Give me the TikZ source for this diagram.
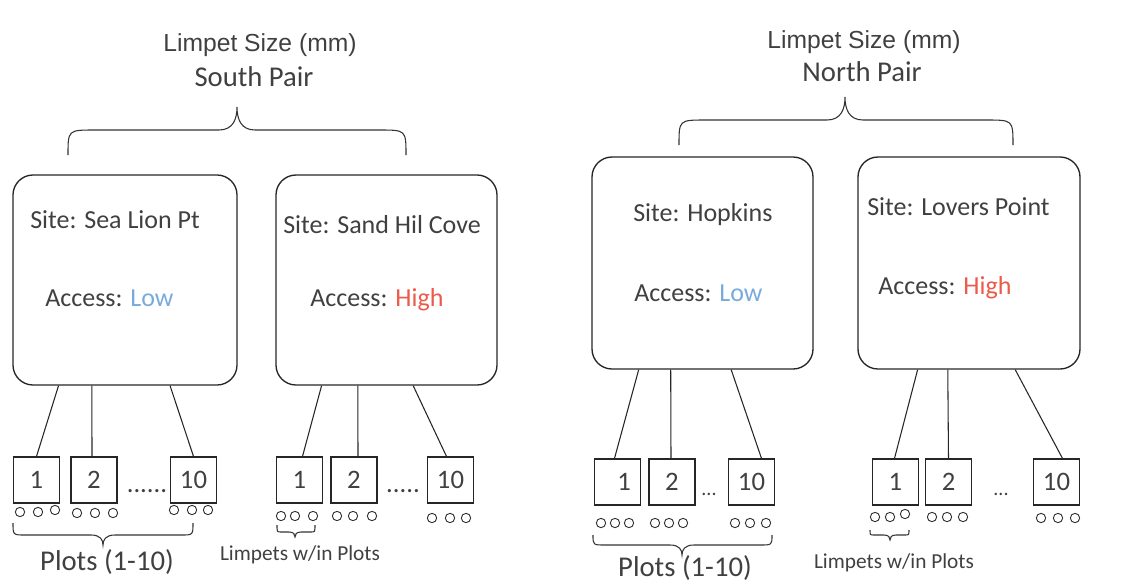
\documentclass[tikz,border=0pt]{standalone}
\usepackage{fontspec}
\setmainfont{Carlito}
\newfontfamily\arialf{Liberation Sans}
\usetikzlibrary{calc,fit}
\definecolor{lowc}{RGB}{120,170,220}
\definecolor{highc}{RGB}{235,90,75}
\definecolor{txt}{RGB}{64,64,64}

\newcommand{\pbrace}[8]{%
 \draw[brc] (#1,#4) .. controls (#1,#5) .. ({#1+#7},#5) -- ({#2-#8},#5)
   .. controls ({#2-0.2*#8},#5) and (#2,{(#5+#6)/2}) .. (#2,#6)
   .. controls (#2,{(#5+#6)/2}) and ({#2+0.2*#8},#5) .. ({#2+#8},#5)
   -- ({#3-#7},#5) .. controls (#3,#5) .. (#3,#4);}

\begin{document}
\begin{tikzpicture}[x=0.75pt,y=-0.75pt,
  site/.style={draw=black!85, line width=1pt, rounded corners=15pt, inner sep=0pt},
  plot/.style={draw=black!85, line width=0.9pt, minimum width=34.5pt, minimum height=34.5pt, inner sep=0pt, font=\fontsize{20}{24}\selectfont, text=txt},
  ring/.style={circle, draw=black!80, line width=0.7pt, minimum size=7pt, inner sep=0pt},
  conn/.style={draw=black!85, line width=0.8pt},
  brc/.style={draw=black!80, line width=0.8pt},
  lbl/.style={inner sep=0pt, text=txt, font=\fontsize{19.5}{23}\selectfont, anchor=west},
  ttl/.style={inner sep=0pt, text=txt, font=\arialf\fontsize{18.5}{22}\selectfont},
  pair/.style={inner sep=0pt, text=txt, font=\fontsize{21.5}{26}\selectfont},
  plotlbl/.style={inner sep=0pt, text=txt, font=\fontsize{21.5}{26}\selectfont},
  limlbl/.style={inner sep=0pt, text=txt, font=\fontsize{16}{19}\selectfont},
  dots/.style={inner sep=0pt, text=txt, anchor=base, font=\fontsize{20}{24}\selectfont}]
\useasboundingbox (0,0) rectangle (1122,586);

% titles
\node[ttl] (tS) at (260,45) {Limpet Size (mm)};
\node[pair] (pS) at (254,77) {South Pair};
\node[ttl] (tN) at (864,42) {Limpet Size (mm)};
\node[pair] (pN) at (862,72) {North Pair};

% top braces
\pbrace{68}{237}{406}{155}{130}{107}{27}{18}
\pbrace{679}{845}{1013}{145}{120}{97}{27}{18}

% site boxes
\node[site, fit={(13,175) (237,385)}] (S1) {};
\node[site, fit={(276,175) (497,385)}] (S2) {};
\node[site, fit={(592,157) (813,369)}] (N1) {};
\node[site, fit={(858,157) (1080,369)}] (N2) {};

\node[lbl] (s1a) at (30,220) {Site: Sea Lion Pt};
\node[lbl] (s1b) at (45,298) {Access: \textcolor{lowc}{Low}};
\node[lbl] (s2a) at (283,225) {Site: Sand Hil Cove};
\node[lbl] (s2b) at (310,300) {Access: \textcolor{highc}{High}};
\node[lbl] (n1a) at (633,215) {Site: Hopkins};
\node[lbl] (n1b) at (634,293) {Access: \textcolor{lowc}{Low}};
\node[lbl] (n2a) at (867,207) {Site: Lovers Point};
\node[lbl] (n2b) at (878,288) {Access: \textcolor{highc}{High}};

% plots
\node[plot] (SP1) at (36.5,480) {1};
\node[plot] (SP2) at (94,480) {2};
\node[plot] (SP10) at (193.5,480) {10};
\node[dots] (Sd) at (147,492) {......};
\node[plot] (TP1) at (299.5,480) {1};
\node[plot] (TP2) at (354,480) {2};
\node[plot] (TP10) at (450.5,480) {10};
\node[dots] (Td) at (403,492) {.....};
\node[plot] (NP1) at (617.5,482) {\hspace*{10pt}1};
\node[plot] (NP2) at (672,482) {2};
\node[plot] (NP10) at (751.5,482) {10};
\node[dots] (Nd) at (709,495) {\fontsize{15}{18}\selectfont...};
\node[plot] (LP1) at (895.5,482) {1};
\node[plot] (LP2) at (948.5,482) {2};
\node[plot] (LP10) at (1056.5,482) {10};
\node[dots] (Ld) at (1001,495) {\fontsize{15}{18}\selectfont...};

% connectors
\draw[conn] ($(S1.south west)!0.205!(S1.south east)$) -- (SP1.north);
\draw[conn] ($(S1.south west)!0.353!(S1.south east)$) -- ($(SP2.north)+(-2,0)$);
\draw[conn] ($(S1.south west)!0.70!(S1.south east)$) -- (SP10.north);
\draw[conn] ($(S2.south west)!0.208!(S2.south east)$) -- ($(TP1.north)+(3,0)$);
\draw[conn] ($(S2.south west)!0.371!(S2.south east)$) -- ($(TP2.north)+(4,0)$);
\draw[conn] ($(S2.south west)!0.62!(S2.south east)$) -- ($(TP10.north)+(-4,0)$);
\draw[conn] ($(N1.south west)!0.213!(N1.south east)$) -- ($(NP1.north)+(-3,0)$);
\draw[conn] ($(N1.south west)!0.357!(N1.south east)$) -- ($(NP2.north)+(-1,0)$);
\draw[conn] ($(N1.south west)!0.629!(N1.south east)$) -- ($(NP10.north)+(10,0)$);
\draw[conn] ($(N2.south west)!0.27!(N2.south east)$) -- ($(LP1.north)+(-1,0)$);
\draw[conn] ($(N2.south west)!0.405!(N2.south east)$) -- (LP2.north);
\draw[conn] ($(N2.south west)!0.707!(N2.south east)$) -- ($(LP10.north)+(6,0)$);

% limpet circles
\foreach \x/\y/\n in {20/512/a1,38/512/a2,55/510/a3,77/513/b1,95/513/b2,113/513/b3,174/510/c1,192/510/c2,208/510/c3,
  281/516/d1,295/516/d2,313/516/d3,337/516/e1,353/516/e2,372/516/e3,432/518/f1,450/518/f2,466/518/f3,
  601/523/g1,615/523/g2,629/523/g3,655/523/h1,669/523/h2,683/523/h3,735/523/i1,750/523/i2,766/523/i3,
  875/517/j1,890/517/j2,905/514/j3,932/517/k1,947/517/k2,963/517/k3,1041/518/l1,1058/518/l2,1075/518/l3}
  \node[ring] (c\n) at (\x,\y) {};

% bottom braces
\pbrace{13}{103}{193}{523}{535}{545}{12}{12}
\pbrace{277}{295}{315}{525}{532}{537}{4}{6}
\pbrace{593}{682}{772}{535}{545}{555}{12}{12}
\pbrace{870}{890}{909}{530}{535}{540}{4}{6}

% bottom labels
\node[plotlbl] (pl1) at (107,562) {Plots (1-10)};
\node[limlbl] (lw1) at (300,555) {Limpets w/in Plots};
\node[plotlbl] (pl2) at (685,568) {Plots (1-10)};
\node[limlbl] (lw2) at (894,563) {Limpets w/in Plots};
\end{tikzpicture}
\end{document}
